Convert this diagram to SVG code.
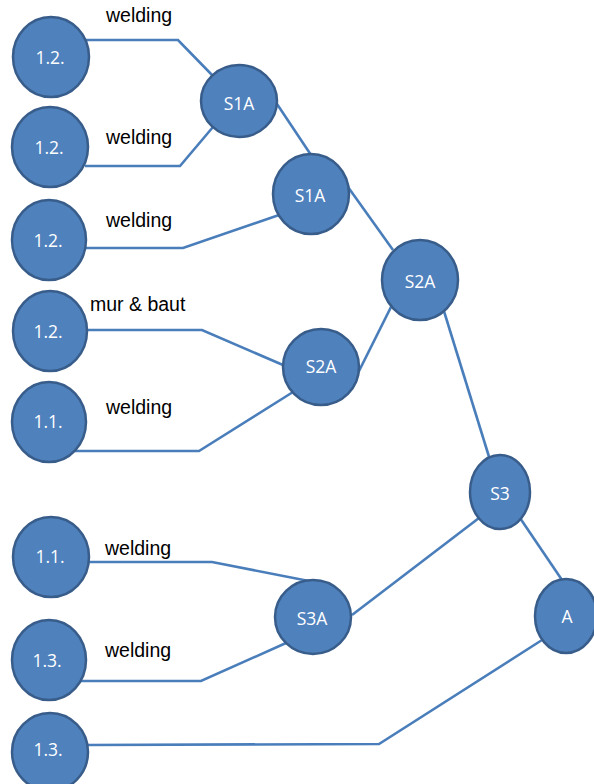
<svg xmlns="http://www.w3.org/2000/svg" width="594" height="784" viewBox="0 0 594 784">
  <style>
    .edge { fill: none; stroke: #4a7ebb; stroke-width: 2.6; stroke-linejoin: miter; }
    .node ellipse { fill: #4f81bd; stroke: #385d8a; stroke-width: 2.5; }
    .node text { fill: #ffffff; font-family: "Open Sans", "Noto Sans", sans-serif; font-size: 17.5px; text-anchor: middle; }
    .lbl { fill: #000000; font-family: "Liberation Sans", Arial, sans-serif; font-size: 19.5px; }
  </style>
  <rect width="594" height="784" fill="#ffffff"/>

  <!-- connectors -->
  <g id="connectors">
    <polyline class="edge" points="84,40 178,40 213,76"/>
    <polyline class="edge" points="85,166 180,166 213,127"/>
    <polyline class="edge" points="86,248 183,248 279,215"/>
    <polyline class="edge" points="277,104 311,155"/>
    <polyline class="edge" points="348,187 393,250"/>
    <polyline class="edge" points="358,373 393,303"/>
    <polyline class="edge" points="443,308 490,460"/>
    <polyline class="edge" points="87,330 202,330 283,365"/>
    <polyline class="edge" points="75,451 199,451 293,392"/>
    <polyline class="edge" points="89,562 212,562 314,582"/>
    <polyline class="edge" points="81,681 201,681 286,643"/>
    <polyline class="edge" points="352,615 479,518"/>
    <polyline class="edge" points="520,518 562,580"/>
    <polyline class="edge" points="88,745 379,744 542,640"/>
  </g>

  <!-- edge labels -->
  <g id="labels">
    <text class="lbl" x="106" y="22">welding</text>
    <text class="lbl" x="106" y="144">welding</text>
    <text class="lbl" x="106" y="227">welding</text>
    <text class="lbl" x="90" y="311">mur &amp; baut</text>
    <text class="lbl" x="106" y="414">welding</text>
    <text class="lbl" x="105" y="555">welding</text>
    <text class="lbl" x="105" y="657">welding</text>
  </g>

  <!-- leaf nodes -->
  <g id="n1" class="node"><ellipse cx="51" cy="57" rx="38" ry="40"/><text x="50" y="64">1.2.</text></g>
  <g id="n2" class="node"><ellipse cx="50" cy="147" rx="38" ry="40"/><text x="49" y="154">1.2.</text></g>
  <g id="n3" class="node"><ellipse cx="49" cy="240" rx="37" ry="40"/><text x="48" y="247">1.2.</text></g>
  <g id="n4" class="node"><ellipse cx="50" cy="331" rx="37" ry="40"/><text x="48" y="338">1.2.</text></g>
  <g id="n5" class="node"><ellipse cx="49" cy="422" rx="37" ry="40"/><text x="48" y="428">1.1.</text></g>
  <g id="n6" class="node"><ellipse cx="51" cy="557" rx="38" ry="40"/><text x="50" y="563">1.1.</text></g>
  <g id="n7" class="node"><ellipse cx="49" cy="660" rx="37" ry="40"/><text x="47" y="667">1.3.</text></g>
  <g id="n8" class="node"><ellipse cx="50" cy="752" rx="38" ry="39"/><text x="48" y="756">1.3.</text></g>

  <!-- assembly nodes -->
  <g id="s1a-top" class="node"><ellipse cx="239" cy="101" rx="38" ry="36"/><text x="239" y="110">S1A</text></g>
  <g id="s1a-mid" class="node"><ellipse cx="311" cy="194" rx="38" ry="40"/><text x="310" y="202">S1A</text></g>
  <g id="s2a-top" class="node"><ellipse cx="420" cy="280" rx="38" ry="40"/><text x="420" y="288">S2A</text></g>
  <g id="s2a-low" class="node"><ellipse cx="321" cy="367" rx="38" ry="38"/><text x="321" y="373">S2A</text></g>
  <g id="s3" class="node"><ellipse cx="500" cy="492" rx="30" ry="37"/><text x="500" y="500">S3</text></g>
  <g id="s3a" class="node"><ellipse cx="313" cy="617" rx="38" ry="37"/><text x="312" y="625">S3A</text></g>
  <g id="a" class="node"><ellipse cx="566" cy="616" rx="31" ry="37"/><text x="567" y="623">A</text></g>
</svg>
